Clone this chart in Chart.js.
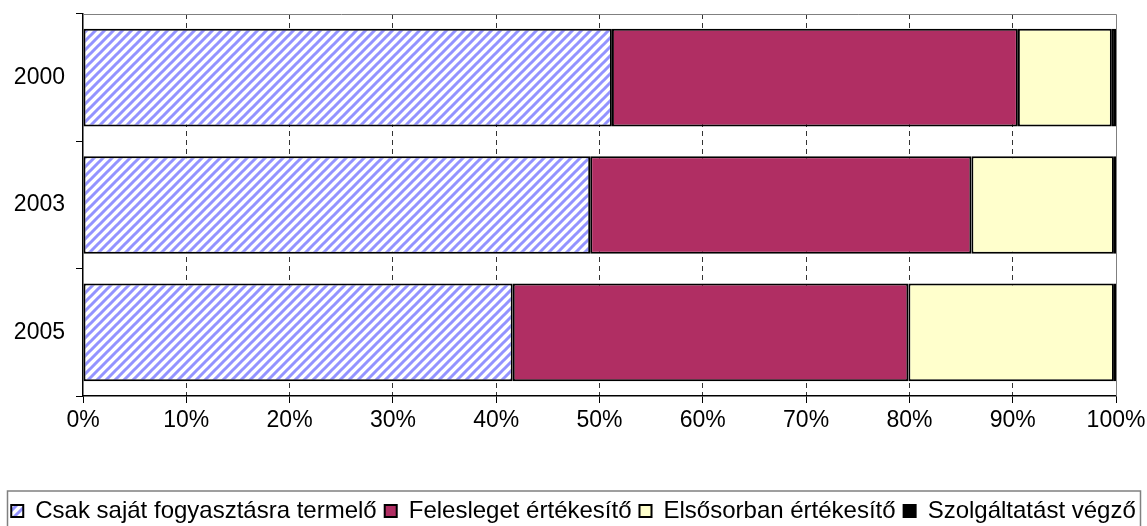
<!DOCTYPE html>
<html>
<head>
<meta charset="utf-8">
<script src="https://cdn.jsdelivr.net/npm/chart.js@4"></script>
<style>
  html, body { margin: 0; padding: 0; background: #fff; }
  #wrap { width: 1147px; height: 526px; }
</style>
</head>
<body>
<div id="wrap"><canvas id="chart" width="1147" height="526"></canvas></div>
<script>
// values (share in %)
var years = ['2000', '2003', '2005'];
var seriesNames = ['Csak saját fogyasztásra termelő', 'Felesleget értékesítő', 'Elsősorban értékesítő', 'Szolgáltatást végző'];
var sajat = [51.2, 49.1, 41.6];
var felesleg = [39.3, 36.9, 38.3];
var elsosorban = [9.1, 13.8, 19.9];
var szolgaltatas = [0.4, 0.2, 0.2];
var xTicks = [0, 10, 20, 30, 40, 50, 60, 70, 80, 90, 100];

// diagonal blue hatch for the first series
function makeHatch() {
  var c = document.createElement('canvas');
  c.width = 9; c.height = 9;
  var g = c.getContext('2d');
  g.fillStyle = '#fff';
  g.fillRect(0, 0, 9, 9);
  g.strokeStyle = '#9393ff';
  g.lineWidth = 3;
  g.beginPath();
  g.moveTo(-1, 10); g.lineTo(10, -1);
  g.moveTo(-5, 5); g.lineTo(5, -5);
  g.moveTo(4, 14); g.lineTo(14, 4);
  g.stroke();
  return g.createPattern(c, 'repeat');
}

var fontFam = "'Liberation Sans', Arial, sans-serif";
Chart.defaults.font.family = fontFam;
Chart.defaults.color = '#000';

var frame = {
  id: 'frame',
  afterDraw: function(chart) {
    var ctx = chart.ctx, a = chart.chartArea;
    ctx.save();
    ctx.strokeStyle = '#808080';
    ctx.lineWidth = 1;
    ctx.beginPath();
    ctx.moveTo(a.left, a.top + 0.5);
    ctx.lineTo(a.right + 0.5, a.top + 0.5);
    ctx.lineTo(a.right + 0.5, a.bottom);
    ctx.stroke();
    // legend box
    ctx.lineWidth = 1.5;
    ctx.strokeRect(7.5, 491, 1133, 60);
    ctx.restore();
  }
};

function ds(label, data, bg) {
  return {
    label: label,
    data: data,
    backgroundColor: bg,
    borderColor: '#000',
    borderWidth: 2,
    borderSkipped: false,
    categoryPercentage: 1,
    barPercentage: 0.767
  };
}

new Chart(document.getElementById('chart'), {
  type: 'bar',
  data: {
    labels: years,
    datasets: [
      ds(seriesNames[0], sajat, makeHatch()),
      ds(seriesNames[1], felesleg, '#b02e63'),
      ds(seriesNames[2], elsosorban, '#ffffcc'),
      ds(seriesNames[3], szolgaltatas, '#000')
    ]
  },
  options: {
    indexAxis: 'y',
    responsive: false,
    animation: false,
    layout: { padding: { top: 14, right: 0, left: 0, bottom: -7 } },
    plugins: {
      tooltip: { enabled: false },
      legend: {
        position: 'bottom',
        labels: {
          boxWidth: 12,
          boxHeight: 12,
          padding: 8,
          color: '#000',
          font: { size: 24, family: fontFam }
        }
      }
    },
    scales: {
      x: {
        stacked: true,
        min: 0,
        max: 100,
        afterBuildTicks: function(scale) {
          scale.ticks = xTicks.map(function(v) { return { value: v }; });
        },
        afterFit: function(scale) {
          scale.height = 95;
          scale.paddingLeft = 0;
          scale.paddingRight = 31;
        },
        ticks: {
          padding: 4,
          font: { size: 23 },
          callback: function(v) { return v + '%'; }
        },
        grid: {
          color: function(c) { return (c.index === 0 || c.index === 10) ? 'rgba(0,0,0,0)' : '#333'; },
          tickColor: '#000',
          tickLength: 7,
          tickWidth: 1
        },
        border: { color: '#000', width: 1.5, dash: [5, 4] }
      },
      y: {
        stacked: true,
        afterFit: function(scale) {
          scale.width = 83;
          scale.paddingTop = 0;
          scale.paddingBottom = 0;
        },
        ticks: { padding: 11, font: { size: 23 } },
        grid: {
          offset: true,
          drawOnChartArea: false,
          tickColor: '#000',
          tickLength: 7
        },
        border: { color: '#000', width: 1.5 }
      }
    }
  },
  plugins: [frame]
});
</script>
</body>
</html>
